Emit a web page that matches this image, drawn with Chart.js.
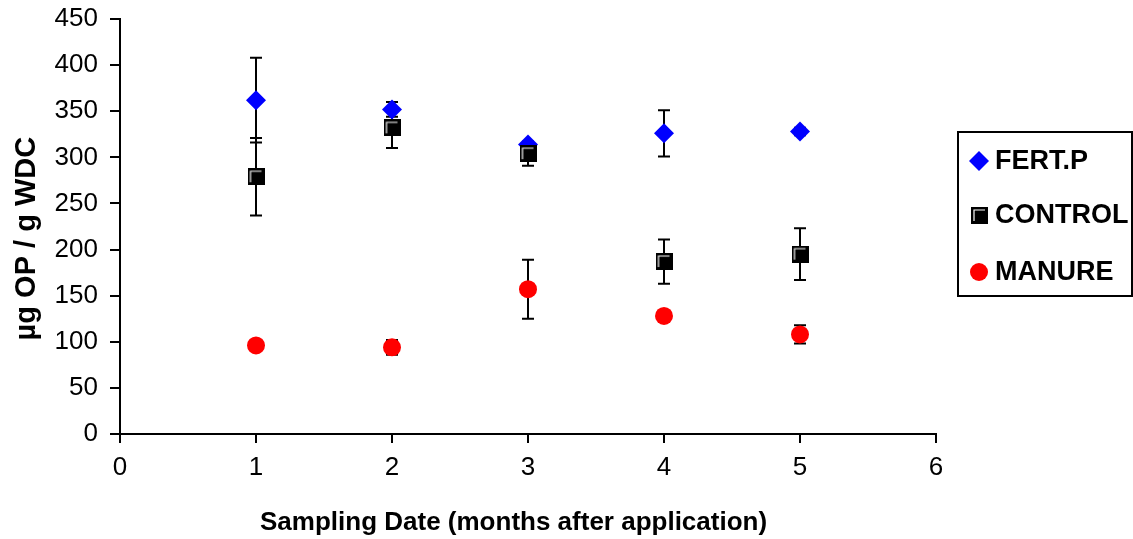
<!DOCTYPE html>
<html>
<head>
<meta charset="utf-8">
<script src="https://cdn.jsdelivr.net/npm/chart.js@4"></script>
<style>
  html, body { margin: 0; padding: 0; background: #fff; }
</style>
</head>
<body>
<canvas id="opChart" width="1133" height="539"></canvas>
<script>
// sampling months
const months = [1, 2, 3, 4, 5];
const xTicks = [0, 1, 2, 3, 4, 5, 6];

const fertP = [362, 352, 314, 326, 328];
const fertPErr = [46, 8, 3, 25, 4];
const control = [279, 332, 304, 187, 195];
const controlErr = [42, 22, 13, 24, 28];
const manure = [96, 94, 157, 128, 108];
const manureErr = [3, 8, 32, 3, 10];

const seriesNames = ["FERT.P", "CONTROL", "MANURE"];

const FONT = "'Liberation Sans', Arial, sans-serif";

// excel-ish black square marker with a white inner edge
function makeSquareMarker(size) {
    const c = document.createElement("canvas");
    c.width = size;
    c.height = size;
    const g = c.getContext("2d");
    g.fillStyle = "#000";
    g.fillRect(0, 0, size, size);
    g.strokeStyle = "#fff";
    g.lineWidth = 1.2;
    g.beginPath();
    g.moveTo(3, size - 3);
    g.lineTo(3, 3);
    g.lineTo(size - 3, 3);
    g.stroke();
    return c;
}
const squareMarker = makeSquareMarker(17);

function toPoints(values) {
    return months.map((m, i) => ({ x: m, y: values[i] }));
}

const errorSets = [fertPErr, controlErr, manureErr];

const errorBars = {
    id: "errorBars",
    beforeDatasetsDraw(chart) {
        const { ctx, scales } = chart;
        ctx.save();
        ctx.strokeStyle = "#000";
        ctx.lineWidth = 2;
        chart.data.datasets.forEach((ds, di) => {
            const errs = errorSets[di];
            ds.data.forEach((p, i) => {
                const x = scales.x.getPixelForValue(p.x);
                const yTop = scales.y.getPixelForValue(p.y + errs[i]);
                const yBot = scales.y.getPixelForValue(p.y - errs[i]);
                ctx.beginPath();
                ctx.moveTo(x, yTop);
                ctx.lineTo(x, yBot);
                ctx.moveTo(x - 6, yTop);
                ctx.lineTo(x + 6, yTop);
                ctx.moveTo(x - 6, yBot);
                ctx.lineTo(x + 6, yBot);
                ctx.stroke();
            });
        });
        ctx.restore();
    },
};

const boxedLegend = {
    id: "boxedLegend",
    afterDraw(chart) {
        const { ctx, chartArea } = chart;
        const left = chartArea.right + 22;
        const top = 132;
        const w = 174;
        const h = 164;
        ctx.save();
        ctx.strokeStyle = "#000";
        ctx.lineWidth = 2;
        ctx.strokeRect(left, top, w, h);
        const rows = [161, 215, 272];
        ctx.font = "bold 27px " + FONT;
        ctx.textBaseline = "middle";
        ctx.fillStyle = "#000";
        chart.data.datasets.forEach((ds, i) => {
            const cx = left + 21;
            const cy = rows[i];
            if (i === 0) {
                ctx.fillStyle = "#0000ff";
                ctx.beginPath();
                ctx.moveTo(cx, cy - 10);
                ctx.lineTo(cx + 10, cy);
                ctx.lineTo(cx, cy + 10);
                ctx.lineTo(cx - 10, cy);
                ctx.closePath();
                ctx.fill();
            } else if (i === 1) {
                ctx.drawImage(squareMarker, cx - 8, cy - 8);
            } else {
                ctx.fillStyle = "#ff0000";
                ctx.beginPath();
                ctx.arc(cx, cy, 9, 0, Math.PI * 2);
                ctx.fill();
            }
            ctx.fillStyle = "#000";
            ctx.fillText(ds.label, left + 37, cy + 1);
        });
        ctx.restore();
    },
};

new Chart(document.getElementById("opChart"), {
    type: "scatter",
    data: {
        datasets: [
            {
                label: seriesNames[0],
                data: toPoints(fertP),
                order: 2,
                pointStyle: "rectRot",
                pointRadius: 10,
                backgroundColor: "#0000ff",
                borderColor: "#0000ff",
                borderWidth: 0,
            },
            {
                label: seriesNames[1],
                data: toPoints(control),
                order: 1,
                pointStyle: squareMarker,
                backgroundColor: "#000",
                borderColor: "#000",
            },
            {
                label: seriesNames[2],
                data: toPoints(manure),
                order: 0,
                pointStyle: "circle",
                pointRadius: 9,
                backgroundColor: "#ff0000",
                borderColor: "#ff0000",
                borderWidth: 0,
            },
        ],
    },
    options: {
        responsive: false,
        animation: false,
        layout: {
            padding: { top: 19, right: 197, left: 0, bottom: 0 },
        },
        plugins: {
            legend: { display: false },
            tooltip: { enabled: false },
        },
        scales: {
            x: {
                type: "linear",
                min: 0,
                max: 6,
                afterBuildTicks: (axis) => {
                    axis.ticks = xTicks.map((v) => ({ value: v }));
                },
                afterFit: (axis) => {
                    axis.height = 105;
                },
                border: { color: "#000", width: 2 },
                grid: {
                    drawOnChartArea: false,
                    color: "#000",
                    lineWidth: 2,
                    tickLength: 9,
                },
                ticks: {
                    color: "#000",
                    padding: 9,
                    font: { family: FONT, size: 26 },
                },
                title: {
                    display: true,
                    text: "Sampling Date (months after application)    ",
                    color: "#000",
                    font: { family: FONT, size: 26, weight: "bold" },
                    padding: { top: 4, bottom: 1 },
                },
            },
            y: {
                min: 0,
                max: 450,
                ticks: {
                    stepSize: 50,
                    color: "#000",
                    padding: 12,
                    font: { family: FONT, size: 26 },
                },
                afterFit: (axis) => {
                    axis.width = 120;
                    axis.paddingTop = 0;
                },
                border: { color: "#000", width: 2 },
                grid: {
                    drawOnChartArea: false,
                    color: "#000",
                    lineWidth: 2,
                    tickLength: 10,
                },
                title: {
                    display: true,
                    text: "µg OP / g WDC   ",
                    color: "#000",
                    font: { family: FONT, size: 29, weight: "bold" },
                    padding: { top: 10, bottom: 0 },
                },
            },
        },
    },
    plugins: [errorBars, boxedLegend],
});
</script>
</body>
</html>
